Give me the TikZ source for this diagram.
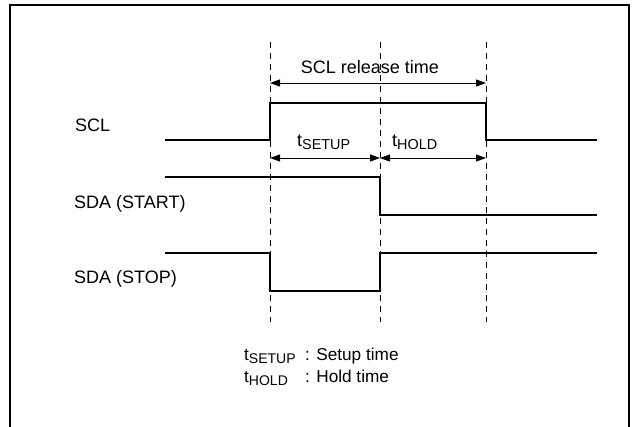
\documentclass[tikz,border=0pt]{standalone}
\usepackage{fontspec}
\setmainfont{Liberation Sans}
\usetikzlibrary{arrows.meta}
\newcommand{\tsub}[1]{t\raisebox{-2.5pt}{\fontsize{14.4}{15}\selectfont #1}}
\newcommand{\tsubsm}[1]{t\raisebox{-2.5pt}{\fontsize{14}{14}\selectfont #1}}
\begin{document}
\begin{tikzpicture}[x=1pt,y=-1pt,
  sig/.style={line width=1.1pt},
  guide/.style={line width=0.9pt, dash pattern=on 6pt off 5pt},
  dim/.style={line width=0.9pt, {Triangle[length=10pt,width=7pt]}-{Triangle[length=10pt,width=7pt]}},
  lbl/.style={font=\fontsize{18}{20}\selectfont, inner sep=0pt},
  leg/.style={font=\fontsize{17.2}{18}\selectfont, inner sep=0pt},
  frm/.style={line width=2pt}]
\useasboundingbox (0,0) rectangle (632,427);
% frame (open at the bottom)
\coordinate (fbl) at (10,430);
\coordinate (ftl) at (10,5);
\coordinate (ftr) at (629,5);
\coordinate (fbr) at (629,430);
\draw[frm] (fbl) -- (ftl) -- (ftr) -- (fbr);

% guide lines
\coordinate (g1t) at (270,42); \coordinate (g1b) at (270,322);
\coordinate (g2t) at (380,42); \coordinate (g2b) at (380,322);
\coordinate (g3t) at (486,42); \coordinate (g3b) at (486,322);
\draw[guide] (g1t) -- (g1b);
\draw[guide] (g2t) -- (g2b);
\draw[guide] (g3t) -- (g3b);

% SCL release time
\coordinate (r1) at (270,83); \coordinate (r3) at (486,83);
\draw[dim] (r1) -- (r3);
\node[lbl] (rel) at (370,67.5) {SCL release time};

% setup / hold arrows
\coordinate (s1) at (270,158); \coordinate (s2) at (380,158); \coordinate (s3) at (486,158);
\draw[dim] (s1) -- (s2);
\draw[dim] (s2) -- (s3);
\node[lbl, anchor=base west] (tsu) at (297,147) {\tsub{SETUP}};
\node[lbl, anchor=base west] (tho) at (392,147) {\tsub{HOLD}};

% SCL
\coordinate (a0) at (165,140); \coordinate (a1) at (270,140); \coordinate (a2) at (270,103);
\coordinate (a3) at (486,103); \coordinate (a4) at (486,140); \coordinate (a5) at (597,140);
\draw[sig] (a0) -- (a1) -- (a2) -- (a3) -- (a4) -- (a5);
\node[lbl, anchor=west] (scl) at (75,125) {SCL};

% SDA (START)
\coordinate (b0) at (165,177); \coordinate (b1) at (380,177);
\coordinate (b2) at (380,215); \coordinate (b3) at (597,215);
\draw[sig] (b0) -- (b1) -- (b2) -- (b3);
\node[lbl, anchor=west] (sdastart) at (74,204) {SDA (START)};

% SDA (STOP)
\coordinate (c0) at (165,253); \coordinate (c1) at (270,253); \coordinate (c2) at (270,291);
\coordinate (c3) at (380,291); \coordinate (c4) at (380,253); \coordinate (c5) at (597,253);
\draw[sig] (c0) -- (c1) -- (c2) -- (c3) -- (c4) -- (c5);
\node[lbl, anchor=west] (sdastop) at (74,279) {SDA (STOP)};

% legend
\node[leg, anchor=base west] (l1a) at (244,361) {\tsubsm{SETUP}};
\node[leg, anchor=base west] (l1b) at (305,361) {: Setup time};
\node[leg, anchor=base west] (l2a) at (244,383) {\tsubsm{HOLD}};
\node[leg, anchor=base west] (l2b) at (305,383) {: Hold time};
\end{tikzpicture}
\end{document}
